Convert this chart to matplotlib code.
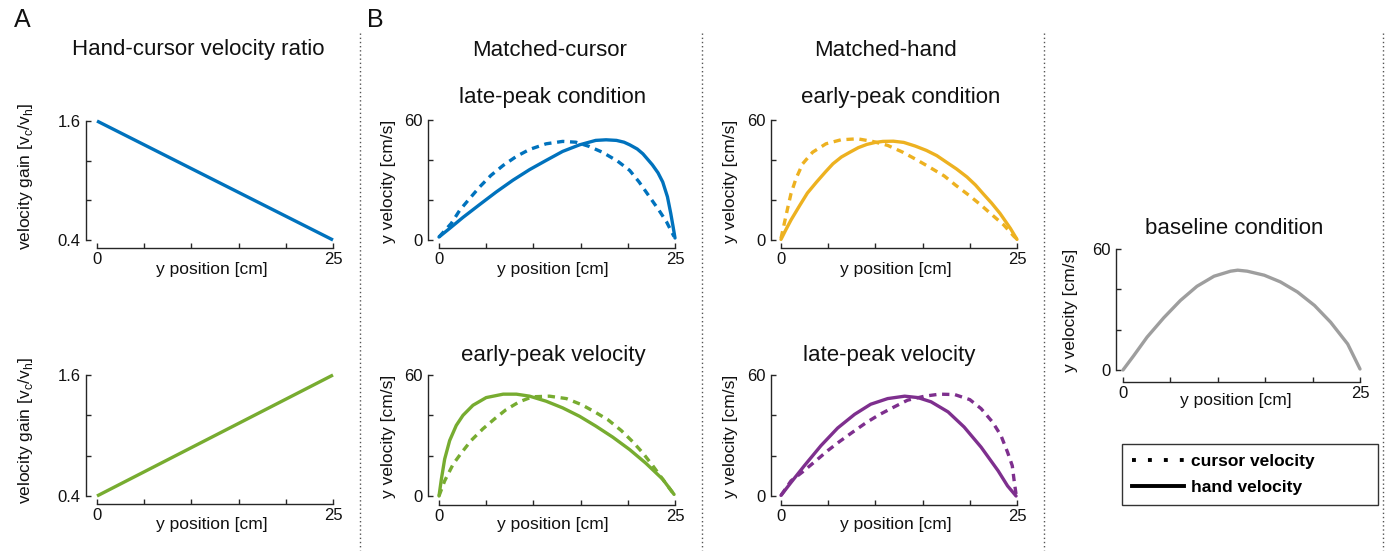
import matplotlib
matplotlib.use("Agg")
import matplotlib.pyplot as plt
from matplotlib.lines import Line2D

plt.rcParams['font.family'] = ['Liberation Sans', 'DejaVu Sans']
plt.rcParams['mathtext.fontset'] = 'custom'
plt.rcParams['mathtext.rm'] = 'Liberation Sans'

# ---------------- data ----------------
gain_pos = [0, 25]
gain_late = [1.6, 0.4]
gain_early = [0.4, 1.6]

blue_hand_x = [0, 1.13, 2.54, 4.3, 6.06, 7.83, 9.6, 11.35, 13.1, 14.9, 16.6, 17.7, 18.8, 19.6, 20.2, 21.0, 21.6, 22.6, 23.2, 23.7, 24.2, 24.55, 24.8, 25]
blue_hand_v = [1.5, 5.8, 11.3, 17.7, 24, 29.9, 35.2, 39.8, 44.3, 47.6, 49.8, 50.1, 49.8, 48.9, 47.6, 45.5, 43.1, 37.6, 33.6, 29, 21.6, 13.3, 6.6, 1.0]
blue_cursor_x = [0, 1.3, 2.2, 3.24, 4.3, 5.5, 6.8, 8.2, 9.6, 11.35, 13.1, 14.5, 15.9, 17.3, 18.9, 20.2, 21.2, 22.3, 23.3, 24.1, 24.9]
blue_cursor_v = [1.5, 8.3, 14.9, 20.7, 26.5, 32.3, 37.3, 41.8, 45.3, 48.1, 49.3, 48.9, 46.8, 43.9, 39.5, 34.8, 29, 21.6, 14.9, 9.1, 1.7]

yellow_hand_x = [0, 0.5, 1.06, 2.0, 2.8, 3.77, 4.7, 5.5, 6.4, 7.3, 8.2, 9.1, 10.0, 10.8, 11.9, 13.0, 14.2, 15.4, 16.5, 17.5, 18.6, 19.7, 20.6, 21.4, 22.3, 23.2, 24.3, 25]
yellow_hand_v = [0.3, 5.0, 10.0, 17.4, 23.5, 29, 34, 38.1, 41.5, 43.9, 46.2, 47.8, 48.8, 49.3, 49.4, 48.8, 47.0, 44.8, 42.2, 39, 35.5, 31.5, 27.5, 23.2, 18.5, 13.3, 5.8, 0.3]
yellow_cursor_x = [0, 0.35, 0.7, 1.06, 1.59, 2.29, 3.35, 4.76, 6.35, 8.1, 9.7, 11.3, 12.9, 14.3, 15.7, 17.3, 18.5, 19.9, 21.2, 22.4, 23.6, 24.7, 25]
yellow_cursor_v = [0.8, 8.3, 15.8, 23.2, 30.7, 38.1, 43.9, 48.1, 50.1, 50.6, 49.3, 47.3, 43.9, 40.3, 36.5, 32.0, 27.4, 22.4, 17.4, 12.4, 7.5, 1.7, 0.5]

green_hand_x = [0, 0.25, 0.6, 1.13, 1.83, 2.54, 3.6, 5.0, 6.8, 8.2, 9.6, 11.35, 13.1, 14.9, 16.6, 18.4, 20.2, 21.9, 23.7, 24.9]
green_hand_v = [0, 8.3, 18.3, 27.5, 35, 40, 45, 48.8, 50.5, 50.5, 49.5, 47, 43.7, 39.5, 34.7, 29.2, 23, 16.3, 8.3, 0.8]
green_cursor_x = [0, 0.6, 1.5, 2.36, 3.4, 4.65, 5.9, 7.1, 8.5, 9.9, 11.7, 13.5, 15.1, 16.5, 17.9, 19.3, 20.5, 21.6, 22.6, 23.7, 24.75]
green_cursor_v = [0, 7.5, 15.8, 21.3, 27.5, 33.3, 38.3, 42.8, 46.7, 49.2, 49.5, 48.3, 45.3, 41.7, 37.8, 32.5, 27, 21.3, 15.3, 8.3, 1.7]

purple_hand_x = [0, 1.06, 2.47, 4.24, 6.0, 7.8, 9.5, 11.3, 13.1, 14.5, 15.9, 17.7, 19.4, 21.2, 23.0, 24.0, 24.9]
purple_hand_v = [0.3, 6.7, 15, 25, 33.7, 40.5, 45.5, 48.3, 49.5, 48.8, 46.7, 41.7, 34.2, 24.2, 12.5, 5, 0]
purple_cursor_x = [0, 1.06, 2.3, 3.7, 4.95, 6.2, 7.6, 9.0, 10.4, 12.0, 13.4, 15.2, 16.8, 18.4, 20.0, 21.2, 22.4, 23.3, 24.0, 24.5, 24.7, 24.9]
purple_cursor_v = [0.3, 7.5, 12, 17.5, 22.5, 27, 31.7, 36.3, 40.3, 44.2, 47.5, 49.5, 50.5, 50.3, 47.8, 43.3, 36.7, 30, 21.7, 15, 7.5, 0.8]

base_x = [0, 1.13, 2.54, 4.3, 6.06, 7.8, 9.6, 11.35, 12.1, 13.1, 14.9, 16.6, 18.4, 20.2, 21.9, 23.7, 25]
base_v = [0, 7.1, 16.3, 25.9, 34.5, 41.5, 46.5, 49, 49.5, 49, 47, 43.7, 38.7, 32, 23.7, 12.9, 0.5]

pos_ticks = [0, 5, 10, 15, 20, 25]
pos_labels = ['0', '', '', '', '', '25']
gain_ticks = [0.4, 0.8, 1.2, 1.6]
gain_labels = ['0.4', '', '', '1.6']
vel_ticks = [0, 20, 40, 60]
vel_labels = ['0', '', '', '60']

BLUE = '#0072BD'
YELLOW = '#EDB120'
GREEN = '#77AC30'
PURPLE = '#7E2F8E'
GRAY = '#9E9E9E'
AXC = '#262626'

W, H = 1386, 552
fig = plt.figure(figsize=(W / 100, H / 100), dpi=100)
fig.patch.set_facecolor('white')

PX = 72 / 100.0  # points per pixel


def make_ax(x0, x1, ytop, ybot, ylim, yticks, ylabels, off_left, off_bottom):
    ax = fig.add_axes([x0 / W, 1 - ybot / H, (x1 - x0) / W, (ybot - ytop) / H])
    ax.set_xlim(0, 25)
    ax.set_ylim(*ylim)
    ax.patch.set_alpha(0)
    for s in ['top', 'right']:
        ax.spines[s].set_visible(False)
    ax.spines['left'].set_position(('outward', off_left * PX))
    ax.spines['bottom'].set_position(('outward', off_bottom * PX))
    for s in ['left', 'bottom']:
        ax.spines[s].set_color(AXC)
        ax.spines[s].set_linewidth(1.0)
    ax.set_xticks(pos_ticks)
    ax.set_xticklabels(pos_labels)
    ax.set_yticks(yticks)
    ax.set_yticklabels(ylabels)
    ax.tick_params(direction='in', length=3.5, width=1.0, color=AXC,
                   labelsize=12, labelcolor='#111111')
    ax.tick_params(axis='y', pad=4)
    ax.tick_params(axis='x', pad=3)
    return ax


def ftext(x, y, s, **kw):
    fig.text(x / W, 1 - y / H, s, **kw)


LW = 2.4
DASH = (0, (2.2, 1.7))
SOLID_KW = dict(lw=LW, clip_on=False, solid_joinstyle='round', solid_capstyle='round')
DASH_KW = dict(lw=LW, linestyle=DASH, clip_on=False, dash_joinstyle='round', dash_capstyle='butt')

# ---------- Panel A ----------
axA1 = make_ax(97, 333, 121, 240, (0.4, 1.6), gain_ticks, gain_labels, 11, 8)
axA1.plot(gain_pos, gain_late, color=BLUE, lw=LW, clip_on=False, solid_capstyle='butt')
axA2 = make_ax(97, 333, 375, 496, (0.4, 1.6), gain_ticks, gain_labels, 11, 8)
axA2.plot(gain_pos, gain_early, color=GREEN, lw=LW, clip_on=False, solid_capstyle='butt')

# ---------- Panel B ----------
axB1 = make_ax(439, 675, 120, 240, (0, 60), vel_ticks, vel_labels, 11, 8)
axB1.plot(blue_cursor_x, blue_cursor_v, color=BLUE, **DASH_KW)
axB1.plot(blue_hand_x, blue_hand_v, color=BLUE, **SOLID_KW)

axB2 = make_ax(781, 1017, 120, 240, (0, 60), vel_ticks, vel_labels, 10, 8)
axB2.plot(yellow_cursor_x, yellow_cursor_v, color=YELLOW, **DASH_KW)
axB2.plot(yellow_hand_x, yellow_hand_v, color=YELLOW, **SOLID_KW)

axB3 = make_ax(439, 675, 375, 496, (0, 60), vel_ticks, vel_labels, 11, 9)
axB3.plot(green_cursor_x, green_cursor_v, color=GREEN, **DASH_KW)
axB3.plot(green_hand_x, green_hand_v, color=GREEN, **SOLID_KW)

axB4 = make_ax(781, 1017, 375, 496, (0, 60), vel_ticks, vel_labels, 10, 9)
axB4.plot(purple_cursor_x, purple_cursor_v, color=PURPLE, **DASH_KW)
axB4.plot(purple_hand_x, purple_hand_v, color=PURPLE, **SOLID_KW)

axB5 = make_ax(1123, 1360, 249, 370, (0, 60), vel_ticks, vel_labels, 7, 12)
axB5.plot(base_x, base_v, color=GRAY, **SOLID_KW)

# ---------- texts ----------
TXT = '#111111'
ftext(22, 20, 'A', fontsize=18, ha='center', va='center', color=TXT)
ftext(375, 20, 'B', fontsize=18, ha='center', va='center', color=TXT)

ftext(198, 50, 'Hand-cursor velocity ratio', fontsize=16, ha='center', va='center', color=TXT)
ftext(550, 50, 'Matched-cursor', fontsize=16, ha='center', va='center', color=TXT)
ftext(885, 50, 'Matched-hand', fontsize=16, ha='center', va='center', color=TXT)

ftext(553, 98, 'late-peak condition', fontsize=16, ha='center', va='center', color=TXT)
ftext(901, 98, 'early-peak condition', fontsize=16, ha='center', va='center', color=TXT)
ftext(553, 356, 'early-peak velocity', fontsize=16, ha='center', va='center', color=TXT)
ftext(889, 356, 'late-peak velocity', fontsize=16, ha='center', va='center', color=TXT)
ftext(1234, 228, 'baseline condition', fontsize=16, ha='center', va='center', color=TXT)

gain_label = r'velocity gain [v$_\mathregular{c}$/v$_\mathregular{h}$]'
ftext(26, 176, gain_label, fontsize=12.5, rotation=90, ha='center', va='center', color=TXT)
ftext(26, 430, gain_label, fontsize=12.5, rotation=90, ha='center', va='center', color=TXT)

vlab = 'y velocity [cm/s]'
ftext(389, 181, vlab, fontsize=12.5, rotation=90, ha='center', va='center', color=TXT)
ftext(731, 181, vlab, fontsize=12.5, rotation=90, ha='center', va='center', color=TXT)
ftext(389, 436, vlab, fontsize=12.5, rotation=90, ha='center', va='center', color=TXT)
ftext(731, 436, vlab, fontsize=12.5, rotation=90, ha='center', va='center', color=TXT)
ftext(1071, 310, vlab, fontsize=12.5, rotation=90, ha='center', va='center', color=TXT)

xlab = 'y position [cm]'
ftext(212, 269, xlab, fontsize=12.5, ha='center', va='center', color=TXT)
ftext(212, 524, xlab, fontsize=12.5, ha='center', va='center', color=TXT)
ftext(553, 269, xlab, fontsize=12.5, ha='center', va='center', color=TXT)
ftext(896, 269, xlab, fontsize=12.5, ha='center', va='center', color=TXT)
ftext(553, 524, xlab, fontsize=12.5, ha='center', va='center', color=TXT)
ftext(896, 524, xlab, fontsize=12.5, ha='center', va='center', color=TXT)
ftext(1236, 400, xlab, fontsize=12.5, ha='center', va='center', color=TXT)

# ---------- separators ----------
for xs in [360, 702, 1044, 1383]:
    fig.add_artist(Line2D([xs / W, xs / W], [1 - 33 / H, 1 - 550 / H],
                          transform=fig.transFigure, color='#555555',
                          lw=1.0, linestyle=(0, (1, 2))))

# ---------- legend ----------
handles = [Line2D([], [], color='black', lw=2.8, linestyle=(0, (1, 3.1)), dash_capstyle='butt'),
           Line2D([], [], color='black', lw=2.8)]
leg = fig.legend(handles, ['cursor velocity', 'hand velocity'],
                 loc='upper left',
                 bbox_to_anchor=(1122 / W, 1 - 444 / H - 0.01, 256 / W, 0.01),
                 mode='expand', frameon=True, fancybox=False, edgecolor='black',
                 prop={'weight': 'bold', 'size': 12.5}, handlelength=3.0,
                 handletextpad=0.45, borderpad=0.55, labelspacing=0.65,
                 borderaxespad=0)
leg.get_frame().set_linewidth(1.0)

fig.savefig('out.png', dpi=100, facecolor='white')
